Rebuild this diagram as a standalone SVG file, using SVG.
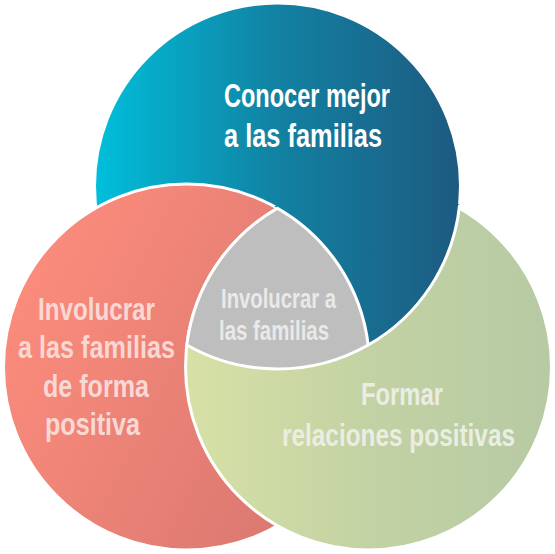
<svg xmlns="http://www.w3.org/2000/svg" width="555" height="554" viewBox="0 0 555 554">
  <defs>
    <linearGradient id="gBlue" gradientUnits="userSpaceOnUse" x1="95" y1="0" x2="460" y2="0">
      <stop offset="0" stop-color="#00BFDB"/>
      <stop offset="0.5" stop-color="#1281A2"/>
      <stop offset="1" stop-color="#1D5A80"/>
    </linearGradient>
    <linearGradient id="gRed" gradientUnits="userSpaceOnUse" x1="4" y1="300" x2="370" y2="480">
      <stop offset="0" stop-color="#FC8C7C"/>
      <stop offset="1" stop-color="#D5756F"/>
    </linearGradient>
    <linearGradient id="gGreen" gradientUnits="userSpaceOnUse" x1="186" y1="0" x2="552" y2="0">
      <stop offset="0" stop-color="#D7E1A6"/>
      <stop offset="0.5" stop-color="#C3D2A3"/>
      <stop offset="1" stop-color="#B6CAA3"/>
    </linearGradient>
    <style>
      .ring { stroke: #FFFFFF; stroke-width: 3; }
      .edge { fill: none; stroke: #FFFFFF; stroke-width: 3; }
      .lbl { font-family: "Liberation Sans", "DejaVu Sans", Arial, sans-serif; font-weight: bold; }
      .blueTxt { fill: #FFFFFF; font-size: 33px; }
      .redTxt { fill: #F9D8D4; font-size: 32px; }
      .greenTxt { fill: #EAEDE2; font-size: 32px; }
      .grayTxt { fill: #E9E9E9; font-size: 28px; }
    </style>
  </defs>

  <g id="node-conocer">
    <circle class="ring" cx="277.5" cy="186" r="183" fill="url(#gBlue)"/>
    <text class="lbl blueTxt" transform="translate(224,107) scale(0.75,1)" textLength="221.3" lengthAdjust="spacingAndGlyphs">Conocer mejor</text>
    <text class="lbl blueTxt" transform="translate(224,147) scale(0.75,1)" textLength="210.7" lengthAdjust="spacingAndGlyphs">a las familias</text>
  </g>

  <g id="node-involucrar-positiva">
    <circle class="ring" cx="186.5" cy="367" r="183" fill="url(#gRed)"/>
    <text class="lbl redTxt" transform="translate(38,320) scale(0.75,1)" textLength="156" lengthAdjust="spacingAndGlyphs">Involucrar</text>
    <text class="lbl redTxt" transform="translate(18,358) scale(0.75,1)" textLength="209.3" lengthAdjust="spacingAndGlyphs">a las familias</text>
    <text class="lbl redTxt" transform="translate(43,397) scale(0.75,1)" textLength="141.3" lengthAdjust="spacingAndGlyphs">de forma</text>
    <text class="lbl redTxt" transform="translate(45,435) scale(0.75,1)" textLength="126.7" lengthAdjust="spacingAndGlyphs">positiva</text>
  </g>

  <g id="node-formar">
    <circle class="ring" cx="368.5" cy="367" r="183" fill="url(#gGreen)"/>
    <text class="lbl greenTxt" transform="translate(361,405) scale(0.75,1)" textLength="109.3" lengthAdjust="spacingAndGlyphs">Formar</text>
    <text class="lbl greenTxt" transform="translate(282,446) scale(0.75,1)" textLength="310.7" lengthAdjust="spacingAndGlyphs">relaciones positivas</text>
  </g>

  <g id="overlap-conocer-formar">
    <path fill="url(#gBlue)" d="M 274.5 206.5 A 186 186 0 0 1 459.6 204.8 A 183 183 0 0 1 368.2 345 A 183 183 0 0 0 274.5 206.5 Z"/>
    <path class="edge" d="M 459.6 204.8 A 183 183 0 0 1 368.2 345"/>
  </g>

  <g id="node-centro">
    <path class="ring" fill="#BEBEBE" d="M 277.5 208.2 A 183 183 0 0 1 368.2 345 A 183 183 0 0 1 186.8 345 A 183 183 0 0 1 277.5 208.2 Z"/>
    <text class="lbl grayTxt" transform="translate(221,308) scale(0.75,1)" textLength="153.3" lengthAdjust="spacingAndGlyphs">Involucrar a</text>
    <text class="lbl grayTxt" transform="translate(219,340) scale(0.75,1)" textLength="146.7" lengthAdjust="spacingAndGlyphs">las familias</text>
  </g>
</svg>
